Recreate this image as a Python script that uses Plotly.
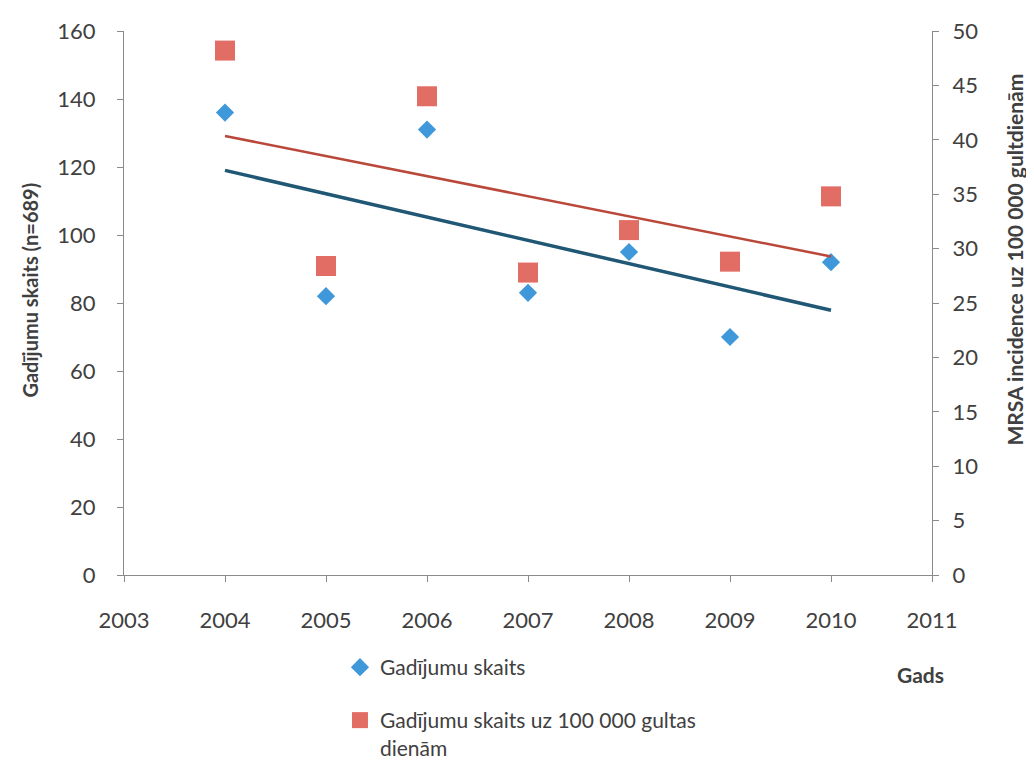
import numpy as np
import plotly.graph_objects as go

years = [2004, 2005, 2006, 2007, 2008, 2009, 2010]
cases = [136, 82, 131, 83, 95, 70, 92]              # Gadījumu skaits (left axis)
incidence = [48.2, 28.4, 44.0, 27.8, 31.7, 28.8, 34.8]  # per 100 000 bed days (right axis)

name_cases = "Gadījumu skaits"
name_inc = "Gadījumu skaits uz 100 000 gultas<br>dienām"

FONT = "Lato"
TXT = "#404040"

# linear trend lines (as in the spreadsheet chart)
yrs = np.array(years, dtype=float)
c_fit = np.polyfit(yrs, cases, 1)
i_fit = np.polyfit(yrs, incidence, 1)
trend_x = [years[0], years[-1]]

fig = go.Figure()

fig.add_trace(go.Scatter(
    x=trend_x, y=list(np.polyval(i_fit, trend_x)), mode="lines", yaxis="y2",
    line=dict(color="#b9483b", width=2.5), showlegend=False, hoverinfo="skip"))
fig.add_trace(go.Scatter(
    x=trend_x, y=list(np.polyval(c_fit, trend_x)), mode="lines",
    line=dict(color="#1f5775", width=3.5), showlegend=False, hoverinfo="skip"))

fig.add_trace(go.Scatter(
    x=years, y=incidence, mode="markers", name=name_inc, yaxis="y2",
    marker=dict(symbol="square", size=20, color="#e26d64"), legend="legend2"))
fig.add_trace(go.Scatter(
    x=years, y=cases, mode="markers", name=name_cases,
    marker=dict(symbol="diamond", size=14, color="#3f98d9"), legend="legend"))

axis_common = dict(
    showline=True, linecolor="#8a8a8a", linewidth=1.2, ticks="outside",
    tickcolor="#8a8a8a", ticklen=6, showgrid=False, zeroline=False,
    tickfont=dict(family=FONT, size=22, color=TXT))

fig.update_layout(
    width=1018, height=751,
    paper_bgcolor="white", plot_bgcolor="white",
    margin=dict(l=116, r=94, t=23, b=184, autoexpand=False),
    xaxis=dict(range=[2003, 2011], dtick=1, ticklabelstandoff=19, automargin=False, **axis_common),
    yaxis=dict(range=[0, 160], dtick=20, ticklabelstandoff=17, automargin=False, **axis_common),
    yaxis2=dict(range=[0, 50], dtick=5, overlaying="y", side="right",
                ticklabelstandoff=9, automargin=False, **axis_common),
    legend=dict(x=0.3261, y=0.1491, xref="container", yref="container",
                xanchor="left", yanchor="top",
                font=dict(family=FONT, size=21, color=TXT), itemwidth=30,
                bgcolor="rgba(0,0,0,0)"),
    legend2=dict(x=0.3261, y=0.0786, xref="container", yref="container",
                 xanchor="left", yanchor="top", valign="top",
                 font=dict(family=FONT, size=21, color=TXT), itemwidth=30,
                 bgcolor="rgba(0,0,0,0)"),
    annotations=[
        dict(text="<b>Gadījumu skaits (n=689)</b>", xref="paper", yref="paper",
             x=-0.1163, y=0.523, xanchor="center", yanchor="middle",
             textangle=-90, showarrow=False,
             font=dict(family=FONT, size=20, color=TXT)),
        dict(text="<b>MRSA incidence uz 100 000 gultdienām</b>", xref="paper", yref="paper",
             x=1.1015, y=0.58, xanchor="center", yanchor="middle",
             textangle=-90, showarrow=False,
             font=dict(family=FONT, size=21, color=TXT)),
        dict(text="<b>Gads</b>", xref="paper", yref="paper",
             x=0.986, y=-0.1835, xanchor="center", yanchor="middle", showarrow=False,
             font=dict(family=FONT, size=21, color=TXT)),
    ],
)

fig.write_html("out.html")
